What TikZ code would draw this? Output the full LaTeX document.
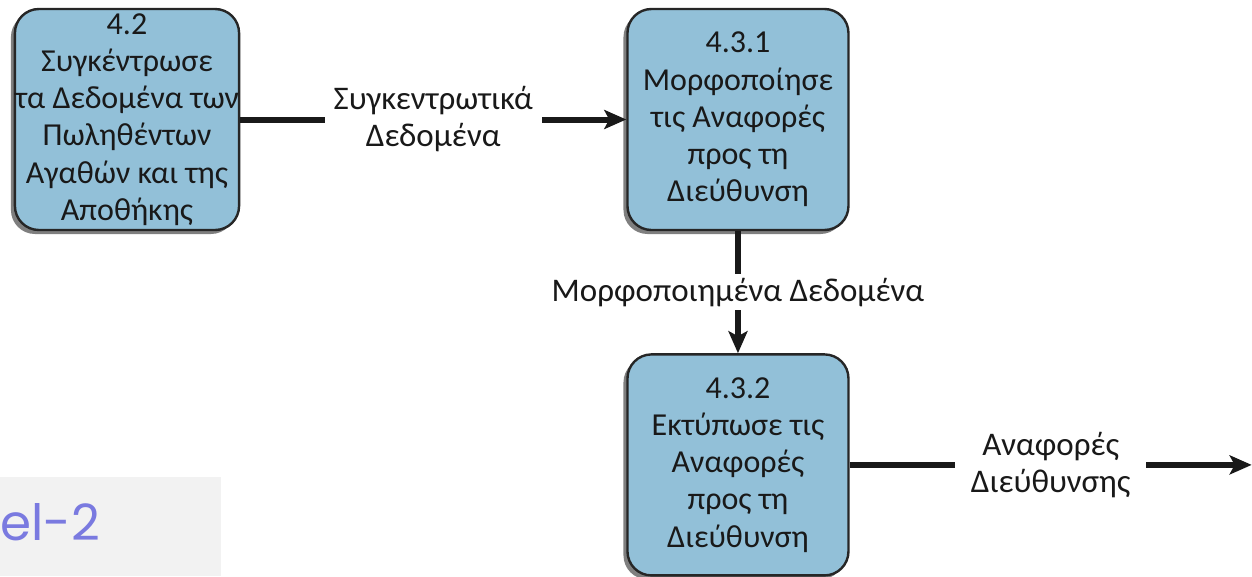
\documentclass[tikz,border=0pt]{standalone}
\usepackage{fontspec}
\setmainfont{Carlito}
\newfontfamily\slidefont{Poppins}
\usetikzlibrary{arrows.meta,positioning,shadows}
\definecolor{procblue}{RGB}{146,192,216}
\definecolor{slidegray}{RGB}{242,242,242}
\definecolor{slidepurple}{RGB}{122,122,224}

\begin{document}
\begin{tikzpicture}[node distance=1.2cm,
    process/.style={rectangle, rounded corners=24pt, draw=black!85, line width=2.4pt, fill=procblue, align=center, minimum width=221pt, minimum height=221pt, inner sep=0pt, font=\fontsize{32}{37.2}\selectfont, text=black!90, drop shadow={shadow xshift=-4pt, shadow yshift=-4pt, fill=black, opacity=0.5}},
    flow/.style={fill=white, align=center, inner sep=9pt, font=\fontsize{33}{37}\selectfont, text=black!90},
    arrow/.style={-{Stealth[length=22pt,width=19pt,inset=5pt]}, line width=6pt, black!90}]

    \useasboundingbox (0,0) rectangle (1252pt,-576pt);

    % slide corner
    \fill[slidegray] (0,-477pt) rectangle (221pt,-576pt);
    \node[anchor=base west, inner sep=0pt, text=slidepurple, font=\slidefont\fontsize{50}{56}\selectfont] (lvl) at (0pt,-540pt) {el-2};

    \node[process] (collect) at (127pt,-119.5pt) {4.2\\Συγκέντρωσε\\τα Δεδομένα των\\Πωληθέντων\\Αγαθών και της\\Αποθήκης};
    \node[process, right=386pt of collect] (format) {4.3.1\\Μορφοποίησε\\τις Αναφορές\\προς τη\\Διεύθυνση};
    \node[process, below=122pt of format] (print) {4.3.2\\Εκτύπωσε τις\\Αναφορές\\προς τη\\Διεύθυνση};
    \coordinate[right=402pt of print.east] (out);

    \draw[arrow] (collect) -- node[flow] {Συγκεντρωτικά\\Δεδομένα} (format);
    \draw[arrow] (format) -- node[flow, inner sep=4pt] {Μορφοποιημένα Δεδομένα} (print);
    \draw[arrow] (print) -- node[flow, inner sep=16pt] {Αναφορές\\Διεύθυνσης} (out);
\end{tikzpicture}
\end{document}
